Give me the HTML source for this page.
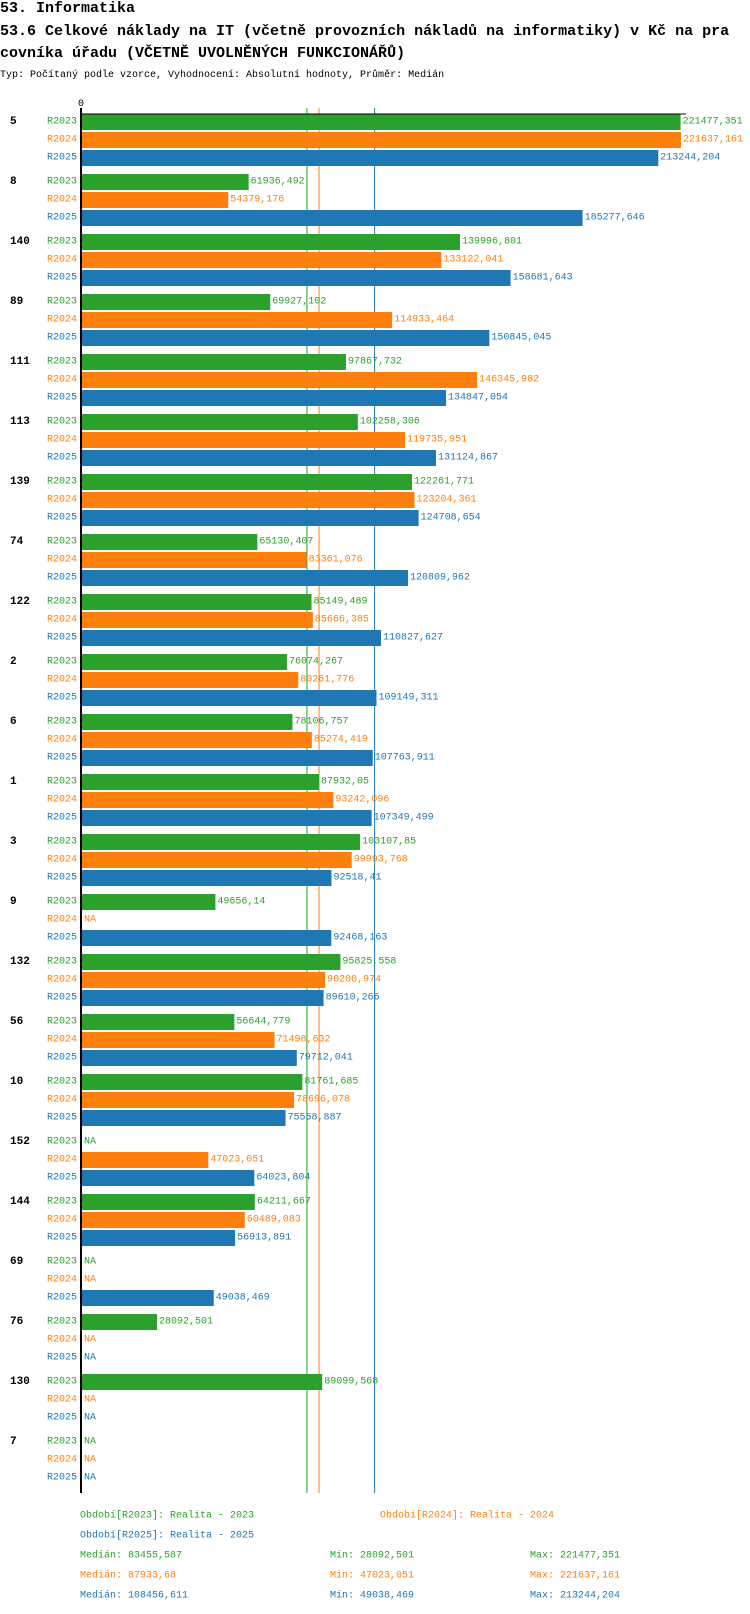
<!DOCTYPE html>
<html><head><meta charset="utf-8">
<style>
html,body{margin:0;padding:0;background:#fff;width:750px;height:1614px;overflow:hidden}
svg{display:block}
text{font-family:"Liberation Mono","DejaVu Sans Mono",monospace;}
</style></head>
<body>
<svg id="chart" width="750" height="1614" xmlns="http://www.w3.org/2000/svg">
<text x="0" y="12" font-size="15" font-weight="bold">53. Informatika</text>
<text x="0" y="35" font-size="15" font-weight="bold" xml:space="preserve">53.6 Celkové náklady na IT (včetně provozních nákladů na informatiky) v Kč na pra</text>
<text x="0" y="57" font-size="15" font-weight="bold">covníka úřadu (VČETNĚ UVOLNĚNÝCH FUNKCIONÁŘŮ)</text>
<text x="0" y="77" font-size="10">Typ: Počítaný podle vzorce, Vyhodnocení: Absolutní hodnoty, Průměr: Medián</text>
<text x="81" y="106" font-size="10" text-anchor="middle">0</text>
<g id="plot"></g>
<g id="legend"></g>
</svg>
<script>
const categories = ["5","8","140","89","111","113","139","74","122","2","6","1","3","9","132","56","10","152","144","69","76","130","7"];
const seriesNames = ["R2023","R2024","R2025"];
const r2023 = [221477.351,61936.492,139996.801,69927.102,97867.732,102258.306,122261.771,65130.407,85149.489,76074.267,78106.757,87932.05,103107.85,49656.14,95825.558,56644.779,81761.685,null,64211.667,null,28092.501,89099.568,null];
const r2024 = [221637.161,54379.176,133122.041,114933.464,146345.982,119735.951,123204.361,83361.076,85666.385,80261.776,85274.419,93242.096,99993.768,null,90200.974,71498.632,78696.078,47023.051,60489.083,null,null,null,null];
const r2025 = [213244.204,185277.646,158681.643,150845.045,134847.054,131124.867,124708.654,120809.962,110827.627,109149.311,107763.911,107349.499,92518.41,92468.163,89610.266,79712.041,75558.887,64023.804,56913.891,49038.469,null,null,null];
const medians = [83455.587,87933.68,108456.611];
const mins = [28092.501,47023.051,49038.469];
const maxs = [221477.351,221637.161,213244.204];
const periodLabels = ["Období[R2023]: Realita - 2023","Období[R2024]: Realita - 2024","Období[R2025]: Realita - 2025"];

const colors = ["#2ca02c","#ff7f0e","#1f77b4"];
const NS = "http://www.w3.org/2000/svg";
const X0 = 81, XMAXV = 221637.161, XMAXP = 681;
const xs = v => X0 + v * (XMAXP - X0) / XMAXV;
const TOP = 114, GROUP = 60, ROW = 18, BH = 16;
const yRow = (g, s) => TOP + g * GROUP + s * ROW;
const fmt = v => String(v).replace('.', ',');
const plot = document.getElementById('plot');
const legend = document.getElementById('legend');
function mk(tag, attrs, parent, txt) {
  const e = document.createElementNS(NS, tag);
  for (const k in attrs) e.setAttribute(k, attrs[k]);
  if (txt !== undefined) e.textContent = txt;
  parent.appendChild(e);
  return e;
}
const series = [r2023, r2024, r2025];
const axisBottom = yRow(categories.length - 1, 3) + 5;
medians.forEach((m, s) => {
  const l = mk('line', {x1: xs(m), x2: xs(m), y1: 108, y2: axisBottom, stroke: colors[s], 'stroke-width': 1}, plot);
  
  
});
categories.forEach((c, g) => {
  const gl = mk('text', {x: 10, y: yRow(g, 0) + 8, 'font-size': 11, 'font-weight': 'bold', 'dominant-baseline': 'central'}, plot, c);
  
  
  series.forEach((arr, s) => {
    const y = yRow(g, s);
    const sl = mk('text', {x: 77, y: y + 8, 'font-size': 10, fill: colors[s], 'text-anchor': 'end', 'dominant-baseline': 'central'}, plot, seriesNames[s]);
    
    
    const v = arr[g];
    let endX = X0 + 1;
    if (v !== null) {
      const r = mk('rect', {x: X0, y: y, width: xs(v) - X0, height: BH, fill: colors[s]}, plot);
      
      
      endX = xs(v);
    }
    const vl = mk('text', {x: endX + 2, y: y + 8, 'font-size': 10, fill: colors[s], 'dominant-baseline': 'central'}, plot, v === null ? 'NA' : fmt(v));
    
    
  });
});
const ya = mk('line', {x1: X0, x2: X0, y1: 108, y2: axisBottom, stroke: '#000', 'stroke-width': 2}, plot);


const xa = mk('line', {x1: X0, x2: 686, y1: 114, y2: 114, stroke: '#000', 'stroke-width': 1}, plot);


const legPos = [[80, 1516], [380, 1516], [80, 1536]];
periodLabels.forEach((t, s) => {
  const e = mk('text', {x: legPos[s][0], y: legPos[s][1], 'font-size': 10, fill: colors[s], 'dominant-baseline': 'central'}, legend, t);
  
  
});
series.forEach((a, s) => {
  const y = 1556 + s * 20;
  const e1 = mk('text', {x: 80, y: y, 'font-size': 10, fill: colors[s], 'dominant-baseline': 'central'}, legend, 'Medián: ' + fmt(medians[s]));
  
  
  const e2 = mk('text', {x: 330, y: y, 'font-size': 10, fill: colors[s], 'dominant-baseline': 'central'}, legend, 'Min: ' + fmt(mins[s]));
  
  
  const e3 = mk('text', {x: 530, y: y, 'font-size': 10, fill: colors[s], 'dominant-baseline': 'central'}, legend, 'Max: ' + fmt(maxs[s]));
  
  
});
</script>
</body></html>
